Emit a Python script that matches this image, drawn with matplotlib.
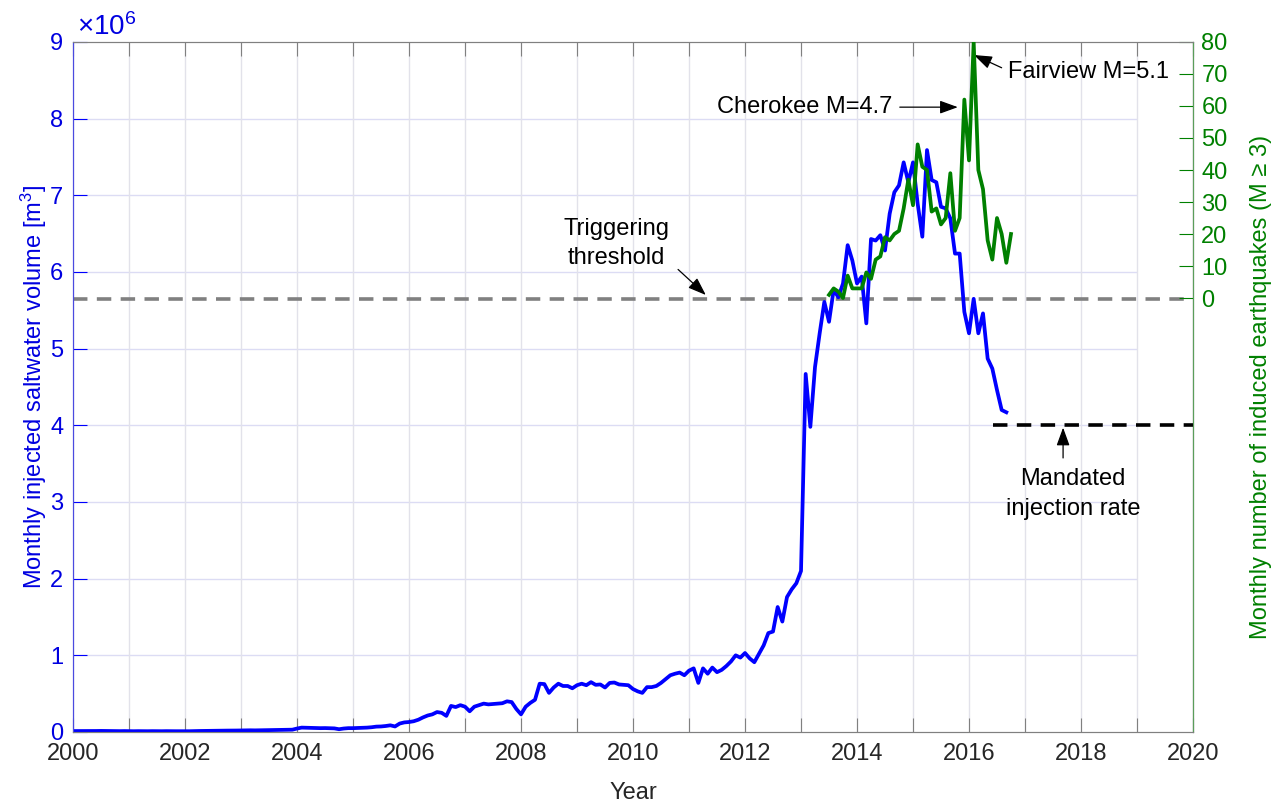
import numpy as np
import matplotlib.pyplot as plt

plt.rcParams['font.family'] = ['Liberation Sans', 'DejaVu Sans']
plt.rcParams['mathtext.fontset'] = 'custom'
plt.rcParams['mathtext.rm'] = 'Liberation Sans'
plt.rcParams['mathtext.it'] = 'Liberation Sans:italic'

BLUE = '#0000ff'
GREEN = '#008000'

# monthly injected saltwater volume [10^6 m^3], one list per year (Jan..Dec)
vol_2000 = [0.012, 0.012, 0.013, 0.013, 0.012, 0.013, 0.014, 0.013, 0.012, 0.012, 0.011, 0.012]
vol_2001 = [0.011, 0.010, 0.011, 0.010, 0.010, 0.011, 0.010, 0.010, 0.011, 0.010, 0.010, 0.010]
vol_2002 = [0.009, 0.010, 0.012, 0.013, 0.014, 0.015, 0.016, 0.016, 0.017, 0.018, 0.018, 0.019]
vol_2003 = [0.020, 0.021, 0.022, 0.021, 0.022, 0.023, 0.024, 0.024, 0.025, 0.026, 0.027, 0.030]
vol_2004 = [0.045, 0.057, 0.055, 0.052, 0.050, 0.050, 0.051, 0.049, 0.047, 0.036, 0.045, 0.050]
vol_2005 = [0.050, 0.052, 0.055, 0.057, 0.062, 0.070, 0.072, 0.078, 0.087, 0.072, 0.110, 0.125]
vol_2006 = [0.130, 0.140, 0.160, 0.190, 0.215, 0.230, 0.260, 0.250, 0.210, 0.340, 0.325, 0.350]
vol_2007 = [0.330, 0.270, 0.330, 0.350, 0.370, 0.360, 0.365, 0.370, 0.375, 0.400, 0.390, 0.300]
vol_2008 = [0.230, 0.330, 0.380, 0.420, 0.630, 0.625, 0.510, 0.580, 0.630, 0.600, 0.600, 0.570]
vol_2009 = [0.610, 0.630, 0.610, 0.650, 0.615, 0.620, 0.580, 0.640, 0.645, 0.620, 0.615, 0.610]
vol_2010 = [0.560, 0.530, 0.510, 0.585, 0.585, 0.600, 0.640, 0.690, 0.740, 0.760, 0.775, 0.740]
vol_2011 = [0.800, 0.830, 0.640, 0.830, 0.760, 0.840, 0.780, 0.810, 0.860, 0.920, 1.000, 0.970]
vol_2012 = [1.030, 0.960, 0.910, 1.020, 1.130, 1.290, 1.310, 1.630, 1.440, 1.760, 1.860, 1.940]
vol_2013 = [2.100, 4.670, 3.980, 4.760, 5.200, 5.610, 5.350, 5.770, 5.670, 5.850, 6.350, 6.150]
vol_2014 = [5.850, 5.940, 5.330, 6.430, 6.410, 6.480, 6.280, 6.760, 7.040, 7.130, 7.430, 7.170]
vol_2015 = [7.430, 6.890, 6.460, 7.590, 7.200, 7.170, 6.850, 6.830, 6.700, 6.240, 6.240, 5.480]
vol_2016 = [5.200, 5.650, 5.200, 5.460, 4.870, 4.740, 4.460, 4.200, 4.170]

# monthly count of induced M>=3 earthquakes, Jul 2013 .. Oct 2016
quakes = [1, 3, 2, 0, 7, 3,
          3, 3, 8, 6, 12, 13, 19, 18, 20, 21, 28, 37,
          29, 48, 41, 40, 27, 28, 23, 25, 39, 21, 25, 62,
          43, 80, 40, 34, 18, 12, 25, 20, 11, 20]

threshold = 5.65e6   # triggering threshold
mandated = 4.0e6     # mandated injection rate
mandated_start = 2016.43

volume = np.concatenate([vol_2000, vol_2001, vol_2002, vol_2003, vol_2004, vol_2005,
                         vol_2006, vol_2007, vol_2008, vol_2009, vol_2010, vol_2011,
                         vol_2012, vol_2013, vol_2014, vol_2015, vol_2016]) * 1e6
t_vol = 2000 + np.arange(len(volume)) / 12
t_eq = 2013.5 + np.arange(len(quakes)) / 12

fig = plt.figure(figsize=(12.81, 8.09), dpi=100)
ax = fig.add_axes([0.057, 0.0952, 0.8743, 0.8529])

ax.set_xlim(2000, 2020)
ax.set_ylim(0, 9e6)
years = np.arange(2000, 2021)
ax.set_xticks(years)
ax.set_xticklabels([str(y) if y % 2 == 0 else '' for y in years])
yt = np.arange(0, 10) * 1e6
ax.set_yticks(yt)
ax.set_yticklabels([str(i) for i in range(10)])

# grid: vertical lines each year, horizontal ones stop at 2019
ax.xaxis.grid(True, color='#e2e2ea', lw=1)
ax.hlines(yt[1:-1], 2000, 2019, color='#dcdcf4', lw=1, zorder=0.5)
ax.set_axisbelow(True)

ax.tick_params(axis='x', direction='in', length=10, top=True, color='#808080',
               labelcolor='#262626', labelsize=17, pad=8)
ax.tick_params(axis='y', direction='in', length=10, color=BLUE, labelcolor='#0000e0',
               labelsize=17, pad=7)
for s in ['top', 'bottom']:
    ax.spines[s].set_color('#808080')
ax.spines['left'].set_color('#4a4ae0')

ax.axhline(threshold, color='#808080', ls=(0, (4, 2.6)), lw=2.6, zorder=2)
ax.hlines(mandated, mandated_start, 2020, color='k', ls=(0, (4, 2.6)), lw=2.6, zorder=2)
ax.plot(t_vol, volume, color=BLUE, lw=2.7, zorder=3)

ax.set_xlabel('Year', fontsize=17, color='#262626', labelpad=12)
ax.set_ylabel('Monthly injected saltwater volume [m$^3$]', fontsize=17,
              color='#0000e0', labelpad=1)
ax.text(0.004, 1.002, '×10$^6$', transform=ax.transAxes, ha='left', va='bottom',
        fontsize=20, color='#0000e0')

# right axis: earthquake counts, 0 sits on the threshold line
ax2 = ax.twinx()
ax2.set_ylim(-135.6, 80)
ax2.set_yticks(np.arange(0, 81, 10))
ax2.tick_params(axis='y', direction='in', length=10, color=GREEN, labelcolor=GREEN,
                labelsize=17, pad=6)
ax2.spines['right'].set_color('#5a9e5a')
ax2.spines['left'].set_color('#4a4ae0')
for s in ['top', 'bottom']:
    ax2.spines[s].set_color('#808080')
ax2.plot(t_eq, quakes, color=GREEN, lw=2.7, zorder=3)
ax2.set_ylabel('Monthly number of induced earthquakes (M ≥ 3)', fontsize=17,
               color=GREEN, labelpad=16)

arrow = dict(arrowstyle='-|>,head_length=0.55,head_width=0.2', color='k', lw=0.9,
             mutation_scale=20, shrinkA=3, shrinkB=0)

ax.text(2009.71, 6.37e6, 'Triggering\nthreshold', ha='center', va='center',
        fontsize=17, linespacing=1.45)
ax.annotate('', xy=(2011.30, 5.70e6), xytext=(2010.75, 6.07e6), arrowprops=arrow)

ax.annotate('Cherokee M=4.7', xy=(2015.80, 8.15e6), xytext=(2014.64, 8.15e6),
            ha='right', va='center', fontsize=17,
            arrowprops=dict(arrow, relpos=(1, 0.5)))
ax.annotate('Fairview M=5.1', xy=(2016.09, 8.83e6), xytext=(2016.70, 8.61e6),
            ha='left', va='center', fontsize=17,
            arrowprops=dict(arrow, relpos=(0, 0.55)))

ax.annotate('', xy=(2017.68, 3.97e6), xytext=(2017.68, 3.52e6), arrowprops=arrow)
ax.text(2017.86, 3.10e6, 'Mandated\ninjection rate', ha='center', va='center',
        fontsize=17, linespacing=1.45)

fig.savefig('out.png', dpi=100)
